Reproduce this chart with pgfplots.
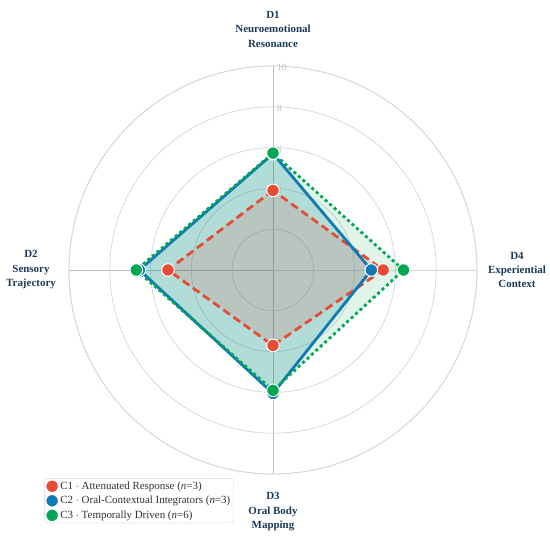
\documentclass[border=0pt]{standalone}
\usepackage{pgfplots}
\pgfplotsset{compat=1.18}
\usepgfplotslibrary{polar}
\usetikzlibrary{calc}
\usepackage{fontspec}
\setmainfont{Liberation Serif}
\definecolor{cA}{HTML}{E64B35}
\definecolor{cB}{HTML}{0F7BB5}
\definecolor{cC}{HTML}{00A651}
\definecolor{gridc}{HTML}{D5D9DE}
\definecolor{spoke}{HTML}{B4BCC4}
\definecolor{navy}{HTML}{1B3A57}
\definecolor{tickc}{HTML}{B8BEC6}
\begin{document}
\begin{tikzpicture}
\begin{polaraxis}[
  width=408bp, height=408bp, scale only axis,
  ymin=0, ymax=10, ytick={2,4,6,8,10}, yticklabels={},
  xtick={0,90,180,270}, xticklabels={},
  xmajorgrids, ymajorgrids,
  y grid style={gridc, line width=0.8bp},
  x grid style={spoke, line width=0.8bp},
  axis line style={gridc, line width=0.8bp},
  major tick length=0pt,
  clip=false,
  legend style={at={(-0.061,-0.011)}, anchor=north west,
    draw=gridc, rounded corners=3bp, fill=white, text=black!80,
    font=\fontsize{11}{13}\selectfont, inner xsep=1.5bp, inner ysep=1bp,
    row sep=1.5bp},
  legend cell align=left,
]
\coordinate (c) at (axis cs:0,0);
% fills
\addplot[forget plot, draw=none, fill=cC, fill opacity=0.12] coordinates {(90,5.73) (180,6.7) (270,5.9) (360,6.4)} -- cycle;
\addplot[forget plot, draw=none, fill=cB!70!cC, fill opacity=0.22] coordinates {(90,5.7) (180,6.55) (270,6.05) (360,4.82)} -- cycle;
\addplot[forget plot, draw=none, fill=cA, fill opacity=0.15] coordinates {(90,3.9) (180,5.15) (270,3.7) (360,5.4)} -- cycle;
% lines
\addplot[forget plot, cA, line width=2.8bp, dash pattern=on 8bp off 4.5bp] coordinates {(90,3.9) (180,5.15) (270,3.7) (360,5.4)} -- cycle;
\addplot[forget plot, cB, line width=2.8bp] coordinates {(90,5.7) (180,6.55) (270,6.05) (360,4.82)} -- cycle;
\addplot[forget plot, cC, line width=2.8bp, dash pattern=on 3bp off 3bp] coordinates {(90,5.73) (180,6.7) (270,5.9) (360,6.4)} -- cycle;
% markers
\addplot[only marks, mark=*, mark size=6.3bp, mark options={fill=cA, draw=white, line width=1bp}] coordinates {(90,3.9) (180,5.15) (270,3.7) (360,5.4)};
\addlegendentry{C1 $\cdot$ Attenuated Response (\textit{n}=3)}
\addplot[only marks, mark=*, mark size=6.3bp, mark options={fill=cB, draw=white, line width=1bp}] coordinates {(90,5.7) (180,6.55) (270,6.05) (360,4.82)};
\addlegendentry{C2 $\cdot$ Oral-Contextual Integrators (\textit{n}=3)}
\addplot[only marks, mark=*, mark size=6.3bp, mark options={fill=cC, draw=white, line width=1bp}] coordinates {(90,5.73) (180,6.7) (270,5.9) (360,6.4)};
\addlegendentry{C3 $\cdot$ Temporally Driven (\textit{n}=6)}
% radial tick labels
\foreach \r in {2,4,6,8,10}{
  \edef\tmp{\noexpand\node[anchor=west, text=tickc, font=\noexpand\fontsize{9.5}{10}\noexpand\selectfont, inner sep=0pt, xshift=4bp, yshift=-1.5bp] at (axis cs:90,\r) {\r};}
  \tmp
}
\end{polaraxis}
\begin{scope}[every node/.style={align=center, text=navy, font=\fontsize{11}{14.5}\selectfont\bfseries}]
\node at ($(c)+(0bp,241bp)$) {D1\\Neuroemotional\\Resonance};
\node at ($(c)+(-242bp,0bp)$) {D2\\Sensory\\Trajectory};
\node at ($(c)+(0bp,-242bp)$) {D3\\Oral Body\\Mapping};
\node at ($(c)+(244bp,0bp)$) {D4\\Experiential\\Context};
\end{scope}
\path ($(c)+(-273bp,-269bp)$) rectangle ($(c)+(277bp,270bp)$);
\end{tikzpicture}
\end{document}
